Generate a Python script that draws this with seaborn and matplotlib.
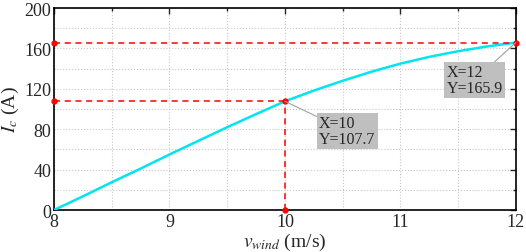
import matplotlib
matplotlib.use("Agg")
import matplotlib.pyplot as plt
import pandas as pd
import seaborn as sns
from matplotlib.ticker import MultipleLocator

# Values
v_wind = [8.0, 8.25, 8.5, 8.75, 9.0, 9.25, 9.5, 9.75, 10.0,
          10.25, 10.5, 10.75, 11.0, 11.25, 11.5, 11.75, 12.0]
i_c = [0.0, 13.5, 27.5, 41.0, 55.0, 68.5, 82.0, 95.0, 107.7,
       118.3, 128.0, 137.0, 145.0, 151.7, 157.3, 162.0, 165.9]

# Marked data tips
tip_x = [10, 12]
tip_y = [107.7, 165.9]
tip_labels = ["X=10\nY=107.7", "X=12\nY=165.9"]

df = pd.DataFrame({"v": v_wind, "ic": i_c})

sns.set_style("white")
plt.rcParams["font.family"] = ["Liberation Serif", "DejaVu Serif"]
plt.rcParams["mathtext.fontset"] = "stix"

fig = plt.figure(figsize=(5.26, 2.53), dpi=100)
ax = fig.add_axes([0.1027, 0.166, 0.878, 0.798])

sns.lineplot(df, x="v", y="ic", color="#00e5f0", linewidth=1.8, ax=ax, zorder=3)

# dashed guides to the axes
for x, y in zip(tip_x, tip_y):
    ax.plot([8, x], [y, y], color="red", linestyle=(0, (4, 3)), linewidth=1.1, zorder=4)
    ax.plot([8, x], [y, y], "o", color="red", markersize=3.5, zorder=5, clip_on=False)
ax.plot([tip_x[0], tip_x[0]], [0, tip_y[0]], color="red", linestyle=(0, (4, 3)),
        linewidth=1.1, zorder=4)
ax.plot([tip_x[0]], [0], "o", color="red", markersize=3.5, zorder=5, clip_on=False)

# data tip boxes
offsets = [(0.295, -29.5), (-0.60, -37.0)]
for (x, y), lab, (dx, dy) in zip(zip(tip_x, tip_y), tip_labels, offsets):
    ax.annotate(lab, xy=(x, y), xytext=(x + dx, y + dy), fontsize=11.5,
                ha="left", va="center", linespacing=0.95,
                bbox=dict(boxstyle="square,pad=0.15", fc="#bfbfbf", ec="none"),
                arrowprops=dict(arrowstyle="-", color="#a0a0a0", lw=0.8,
                                shrinkA=0, shrinkB=0), zorder=6)

ax.set_xlim(8, 12)
ax.set_ylim(0, 200)
ax.xaxis.set_major_locator(MultipleLocator(1))
ax.xaxis.set_minor_locator(MultipleLocator(0.5))
ax.yaxis.set_major_locator(MultipleLocator(40))
ax.yaxis.set_minor_locator(MultipleLocator(20))
ax.grid(which="both", color="#c8c8c8", linestyle=":", linewidth=0.8)
ax.tick_params(which="both", direction="in", top=True, right=True,
               labelsize=13, width=1, pad=2)
ax.tick_params(which="major", length=4)
ax.tick_params(which="minor", length=2.5)
for s in ax.spines.values():
    s.set_linewidth(1.2)
    s.set_color("black")

ax.set_xlabel(r"$v_{wind}$ (m/s)", fontsize=14, labelpad=1)
ax.set_ylabel(r"$I_c$ (A)", fontsize=14, labelpad=2)

fig.savefig("out.png", dpi=100)
